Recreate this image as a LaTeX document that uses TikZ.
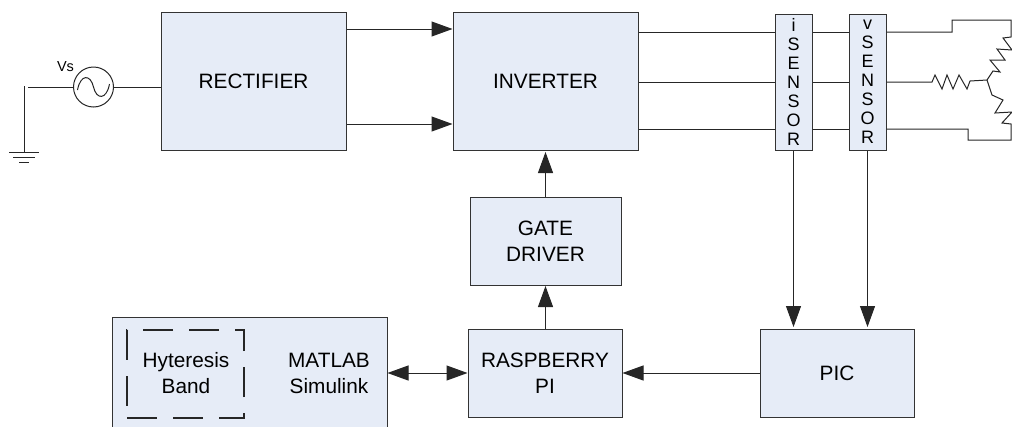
\documentclass[tikz,border=0pt]{standalone}
\usepackage{fontspec}
\setmainfont{Liberation Sans}
\usetikzlibrary{arrows.meta}
\definecolor{boxfill}{RGB}{230,236,247}
\tikzset{blockbox/.style={draw=black!80, fill=boxfill, line width=1pt, align=center, inner sep=0pt, font=\fontsize{20.8}{26}\selectfont},
  sensorbox/.style={blockbox, font=\fontsize{18}{19}\selectfont},
  wire/.style={draw=black!85, line width=1pt},
  flow/.style={wire, -{Triangle[length=21pt,width=15pt]}},
  flowboth/.style={wire, {Triangle[length=21pt,width=15pt]}-{Triangle[length=21pt,width=15pt]}}}

\begin{document}
\begin{tikzpicture}[x=1pt, y=-1pt]
	\useasboundingbox (0,0) rectangle (1012,426);
	\clip (0,0) rectangle (1012,426);
	% blocks
	\node[blockbox, minimum width=185pt, minimum height=138pt] (rectifier) at (253.5,81) {RECTIFIER};
	\node[blockbox, minimum width=185pt, minimum height=138pt] (inverter) at (545.5,81) {INVERTER};
	\node[blockbox, minimum width=151pt, minimum height=88pt] (gate) at (545.5,241) {GATE\\DRIVER};
	\node[blockbox, minimum width=154pt, minimum height=88pt] (pi) at (545,373) {RASPBERRY\\PI};
	\node[blockbox, minimum width=154pt, minimum height=88pt] (pic) at (837,373) {PIC};
	\node[blockbox, minimum width=275pt, minimum height=130pt] (matlab) at (249.5,382) {};
	\node[sensorbox, minimum width=37pt, minimum height=136pt] (isensor) at (793.5,82) {i\\S\\E\\N\\S\\O\\R};
	\node[sensorbox, minimum width=37pt, minimum height=136pt] (vsensor) at (867.5,82) {v\\S\\E\\N\\S\\O\\R};
	\node[font=\fontsize{20.8}{26}\selectfont, align=center] (simulink) at (329,373) {MATLAB\\Simulink};
	\node[font=\fontsize{20.8}{26}\selectfont, align=center] (band) at (186,373) {Hyteresis\\Band};
	\draw[wire, line width=1.2pt, dash pattern=on 30pt off 16pt] (127,418) -- (244,418) -- (244,330) -- (127,330) -- cycle;
	% source and ground
	\node[draw=black!85, line width=1pt, circle, minimum size=40pt, inner sep=0pt] (source) at (93.5,87) {};
	\node[font=\fontsize{14.5}{17}\selectfont, inner sep=0pt] (vs) at (65.5,67) {Vs};
	\begin{scope}[shift={(source.center)}]
		\draw[wire] (-16,3) .. controls (-13,-13) and (-3,-13) .. (0,0) .. controls (3,13) and (13,13) .. (16,-3);
	\end{scope}
	\coordinate (gnd) at (24,152);
	\draw[wire] (gnd) -- (24,86);
	\draw[wire] (28,87) -- (source.west);
	\draw[wire] (source.east) -- (rectifier.west |- source.east);
	\draw[wire] (9,152) -- (39,152);
	\draw[wire] (13,157) -- (35,157);
	\draw[wire] (19,162) -- (29,162);
	% power path
	\draw[flow] (rectifier.east |- 0,29) -- (inverter.west |- 0,29);
	\draw[flow] (rectifier.east |- 0,124) -- (inverter.west |- 0,124);
	\foreach \wy in {32,82,129} {
		\draw[wire] (inverter.east |- 0,\wy) -- (isensor.west |- 0,\wy);
		\draw[wire] (isensor.east |- 0,\wy) -- (vsensor.west |- 0,\wy);
	}
	% load
	\coordinate (star) at (987,80);
	\draw[wire] (vsensor.east |- 0,32) -- (952,32) -- (952,20) -- (1011,20) -- (1011,37) -- (1003,38) -- (1012,50) -- (997,49) -- (1005,60) -- (990,60) -- (1000,72) -- (993,71) -- (star);
	\draw[wire] (vsensor.east |- 0,82) -- (932,82) -- (935,75) -- (942,89) -- (947,75) -- (953,89) -- (959,75) -- (967,89) -- (970,81) -- (star);
	\draw[wire] (vsensor.east |- 0,129) -- (968,129) -- (968,140) -- (1011,140) -- (1011,124) -- (1002,123) -- (1012,112) -- (995,113) -- (1003,100) -- (992,95) -- (star);
	% control path
	\draw[flow] (gate.north) -- (gate.north |- 0,152);
	\draw[flow] (pi.north -| gate.north) -- (gate.north |- 0,286);
	\draw[flow] (isensor.south) -- (isensor.south |- 0,327);
	\draw[flow] (vsensor.south) -- (vsensor.south |- 0,327);
	\draw[flow] (pic.west) -- (pi.east);
	\draw[flowboth] (matlab.east |- pi.west) -- (pi.west);
\end{tikzpicture}
\end{document}
